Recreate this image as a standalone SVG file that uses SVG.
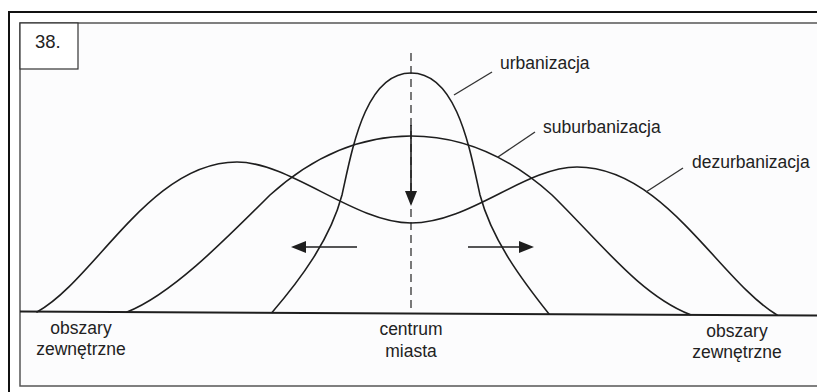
<svg xmlns="http://www.w3.org/2000/svg" width="817" height="392" viewBox="0 0 817 392">
<style>
.c{fill:none;stroke:#1e1e1e;stroke-width:1.6;stroke-linejoin:round;stroke-linecap:round}
.ld{fill:none;stroke:#333;stroke-width:1.4}
.t{font-family:"Liberation Sans",Arial,sans-serif;font-size:17.5px;fill:#222}
.tm{text-anchor:middle}
.ar{fill:none;stroke:#1e1e1e;stroke-width:1.6}
.ah{fill:#1e1e1e}
</style>
<rect x="0" y="0" width="817" height="392" fill="#ffffff"/>
<rect x="20" y="23" width="797" height="363" fill="#fcfcfd"/>
<g id="frame">
<path d="M9,392 V12 H817" fill="none" stroke="#111" stroke-width="2"/>
<path d="M817,23 H20 V386 H817" fill="none" stroke="#555" stroke-width="1.5"/>
<g id="number">
<rect x="20" y="23" width="58" height="46" fill="#fff" stroke="#333" stroke-width="1.2"/>
<text class="t" x="35" y="48" style="font-size:18.5px">38.</text>
</g>
</g>
<g id="axis">
<line x1="20" y1="311.5" x2="817" y2="315.5" stroke="#1e1e1e" stroke-width="2"/>
<line x1="411" y1="53" x2="411" y2="312" stroke="#333" stroke-width="1.3" stroke-dasharray="8 5"/>
</g>
<g id="urbanizacja">
<path class="c" d="M272,312.5 C300,280 330,240 342,195 C352,150 365,73 411,73 C457,73 470,150 480,195 C492,240 522,280 549,314"/>
<line class="ld" x1="454" y1="95" x2="492" y2="72"/>
<text class="t" x="500" y="69">urbanizacja</text>
</g>
<g id="suburbanizacja">
<path class="c" d="M127,312 C170,295 220,245 270,195 C320,150 370,136 411,136 C452,136 502,150 552,195 C600,242 640,295 690,314.5"/>
<line class="ld" x1="498" y1="157" x2="535" y2="132"/>
<text class="t" x="543" y="133">suburbanizacja</text>
</g>
<g id="dezurbanizacja">
<path class="c" d="M37,312 C95,280 150,162 237,162 C290,162 355,223 411,223 C470,223 525,167 577,167 C664,167 719,280 777,315"/>
<line class="ld" x1="646" y1="192" x2="683" y2="168"/>
<text class="t" x="692" y="168">dezurbanizacja</text>
</g>
<g id="arrows">
<line class="ar" x1="411" y1="125" x2="411" y2="193"/>
<path class="ah" d="M411,206 L405,191 L417,191 Z"/>
<line class="ar" x1="357" y1="247" x2="303" y2="247"/>
<path class="ah" d="M291,247 L306,241 L306,253 Z"/>
<line class="ar" x1="468" y1="247" x2="521" y2="247"/>
<path class="ah" d="M534,247 L519,241 L519,253 Z"/>
</g>
<g id="labels">
<text class="t tm" x="81" y="334">obszary</text>
<text class="t tm" x="81" y="355">zewnętrzne</text>
<text class="t tm" x="411" y="335">centrum</text>
<text class="t tm" x="411" y="357">miasta</text>
<text class="t tm" x="737" y="337">obszary</text>
<text class="t tm" x="737" y="358">zewnętrzne</text>
</g>
</svg>
